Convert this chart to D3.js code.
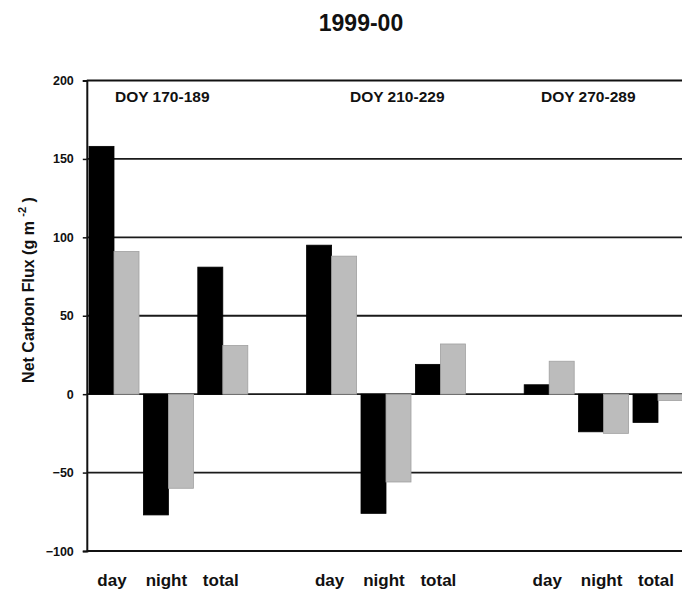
<!DOCTYPE html>
<html>
<head>
<meta charset="utf-8">
<script src="https://cdn.jsdelivr.net/npm/d3@7/dist/d3.min.js"></script>
<style>
  html, body { margin: 0; padding: 0; background: #fff; }
  svg { display: block; font-family: "Liberation Sans", Arial, sans-serif; }
</style>
</head>
<body>
<svg id="chart" width="682" height="593"></svg>
<script>
// Periods (day-of-year windows) and flux components
const periods = ["DOY 170-189", "DOY 210-229", "DOY 270-289"];
const parts = ["day", "night", "total"];
const seriesNames = ["black", "gray"];

// Net carbon flux (g m-2) per period, in order day, night, total
const blackValues = [
  [158, -77, 81],
  [95, -76, 19],
  [6, -24, -18]
];
const grayValues = [
  [91, -60, 31],
  [88, -56, 32],
  [21, -25, -4]
];

const yTicks = [200, 150, 100, 50, 0, -50, -100];
const gridValues = [150, 100, 50, 0, -50];

const svg = d3.select("#chart");
const plotLeft = 86.8, plotRight = 685.2, plotTop = 80.5, plotBottom = 551;

// one slot per component, with an empty slot between periods
const slots = [];
periods.forEach((p, pi) => {
  parts.forEach((c, ci) => {
    slots.push({ period: p, part: c, slot: pi * 4 + ci,
                 black: blackValues[pi][ci], gray: grayValues[pi][ci] });
  });
});

const x = d3.scaleBand().domain(d3.range(11)).range([plotLeft, plotRight]).padding(0);
const xs = d3.scaleBand().domain(seriesNames).range([0, x.bandwidth()]).paddingInner(0).paddingOuter(0.088);
const y = d3.scaleLinear().domain([-100, 200]).range([plotBottom, plotTop]);

// horizontal grid lines
svg.append("g").selectAll("line").data(gridValues).join("line")
  .attr("x1", plotLeft).attr("x2", plotRight)
  .attr("y1", d => y(d)).attr("y2", d => y(d))
  .attr("stroke", "#1a1a1a").attr("stroke-width", 1.8);

// frame: top and bottom edges
svg.append("g").selectAll("line").data([200, -100]).join("line")
  .attr("x1", plotLeft).attr("x2", plotRight)
  .attr("y1", d => y(d)).attr("y2", d => y(d))
  .attr("stroke", "#111").attr("stroke-width", 2);

// bars
const colors = { black: "#000000", gray: "#bcbcbc" };
const strokes = { black: "#000000", gray: "#a0a0a0" };
const barG = svg.append("g");
slots.forEach(s => {
  seriesNames.forEach(name => {
    const v = s[name];
    barG.append("rect")
      .attr("x", x(s.slot) + xs(name))
      .attr("width", xs.bandwidth())
      .attr("y", y(Math.max(0, v)))
      .attr("height", Math.abs(y(v) - y(0)))
      .attr("fill", colors[name])
      .attr("stroke", strokes[name])
      .attr("stroke-width", 0.8);
  });
});

// y axis
const yAxis = d3.axisLeft(y).tickValues(yTicks).tickSize(4).tickPadding(9).tickFormat(d3.format("d"));
const ya = svg.append("g").attr("transform", `translate(${plotLeft},0)`).call(yAxis);
ya.select(".domain").attr("stroke", "#111").attr("stroke-width", 2);
ya.selectAll(".tick line").attr("stroke", "#111").attr("stroke-width", 1.5);
ya.selectAll(".tick text").attr("font-size", 12.5).attr("font-weight", "bold")
  .attr("fill", "#111").attr("font-family", "'Liberation Sans', Arial, sans-serif");

// category labels below the plot
svg.append("g").selectAll("text").data(slots).join("text")
  .attr("x", d => x(d.slot) + x.bandwidth() / 2 - 2)
  .attr("y", 586)
  .attr("text-anchor", "middle")
  .attr("font-size", 17).attr("font-weight", "bold").attr("fill", "#111")
  .text(d => d.part);

// period labels inside the plot
svg.append("g").selectAll("text").data(periods).join("text")
  .attr("x", (d, i) => [115, 350, 541][i])
  .attr("y", 102)
  .attr("font-size", 15.5).attr("font-weight", "bold").attr("fill", "#111")
  .text(d => d);

// title
svg.append("text")
  .attr("x", 361).attr("y", 31)
  .attr("text-anchor", "middle")
  .attr("font-size", 23).attr("font-weight", "bold").attr("fill", "#111")
  .text("1999-00");

// y axis title with superscript
const yt = svg.append("text")
  .attr("transform", "translate(34,290) rotate(-90)")
  .attr("text-anchor", "middle")
  .attr("font-size", 16).attr("font-weight", "bold").attr("fill", "#111");
yt.append("tspan").text("Net Carbon Flux (g m ");
yt.append("tspan").attr("font-size", 11).attr("dy", -8).text("-2");
yt.append("tspan").attr("dy", 8).text(" )");
</script>
</body>
</html>
